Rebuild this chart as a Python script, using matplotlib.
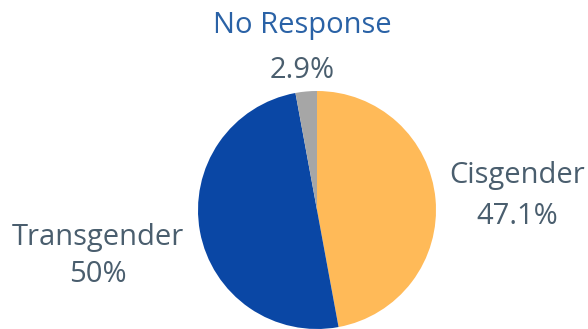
import matplotlib
matplotlib.use("Agg")
import matplotlib.pyplot as plt

categories = ["Cisgender", "Transgender", "No Response"]
values = [47.1, 50.0, 2.9]
pct_labels = ["47.1%", "50%", "2.9%"]
colors = ["#FFBA58", "#0A47A5", "#A6A6A6"]

fig = plt.figure(figsize=(5.88, 3.29), dpi=100)
ax = fig.add_axes([0, 0, 1, 1])

ax.pie(values, colors=colors, startangle=90, counterclock=False,
       center=(317, 119), radius=119, frame=True,
       wedgeprops=dict(linewidth=0))
ax.set_xlim(0, 588)
ax.set_ylim(0, 329)
ax.set_aspect("equal")
ax.axis("off")

font = "Open Sans"
name_col = ["#4A5E6E", "#4A5E6E", "#2A62A6"]
val_col = "#4A5E6E"
pos = [(517, 154, 113), (98, 92, 54), (302, 303, 259)]
for i, (x, y1, y2) in enumerate(pos):
    ax.text(x, y1, categories[i], ha="center", va="center", fontsize=21,
            color=name_col[i], family=font)
    ax.text(x, y2, pct_labels[i], ha="center", va="center", fontsize=21,
            color=val_col, family=font)

fig.savefig("out.png", dpi=100)
